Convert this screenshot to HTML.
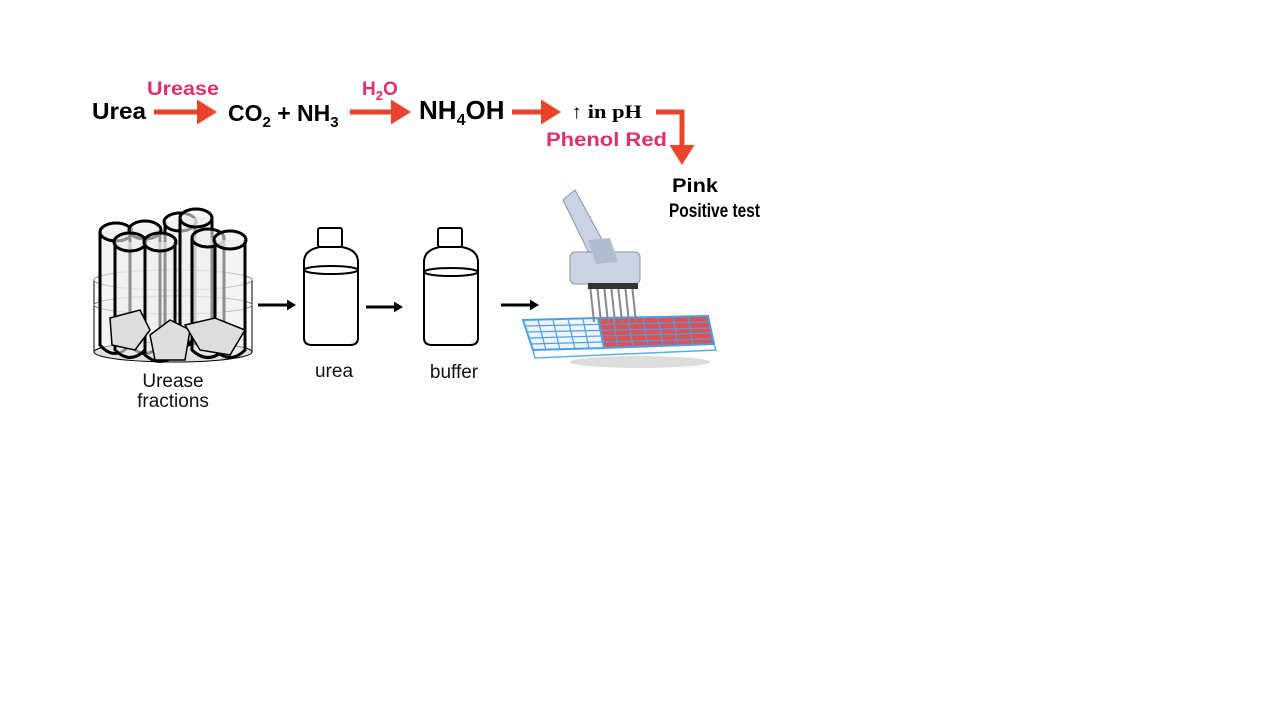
<!DOCTYPE html>
<html><head><style>
body{margin:0;background:#fff;width:1280px;height:720px;overflow:hidden}
svg{display:block}
.b{font-family:"Liberation Sans",sans-serif;font-weight:bold}
.p{fill:#e0306a}
.n{font-family:"Liberation Sans",sans-serif;font-size:19px;fill:#111}
</style></head><body>
<svg width="1280" height="720" viewBox="0 0 1280 720">
<defs>
<marker id="oa" markerWidth="5" markerHeight="5" refX="1" refY="2.5" orient="auto" markerUnits="strokeWidth"><path d="M0,0L4,2.5L0,5z" fill="#e8452a"/></marker>
<marker id="ba" markerWidth="4" markerHeight="4" refX="1" refY="2" orient="auto" markerUnits="strokeWidth"><path d="M0,0.2L3,2L0,3.8z" fill="#000"/></marker>
</defs>
<!-- reaction -->
<text x="92" y="119" class="b" font-size="23" textLength="54" lengthAdjust="spacingAndGlyphs">Urea</text>
<text x="147" y="95" class="b p" font-size="19" textLength="72" lengthAdjust="spacingAndGlyphs">Urease</text>
<line x1="154" y1="112" x2="202" y2="112" stroke="#e8452a" stroke-width="5" marker-end="url(#oa)"/>
<text x="228" y="121" class="b" font-size="23">CO<tspan font-size="15" dy="6">2</tspan><tspan dy="-6"> + NH</tspan><tspan font-size="15" dy="6">3</tspan></text>
<text x="362" y="95" class="b p" font-size="19">H<tspan font-size="13" dy="5">2</tspan><tspan dy="-5">O</tspan></text>
<line x1="350" y1="112" x2="396" y2="112" stroke="#e8452a" stroke-width="5" marker-end="url(#oa)"/>
<text x="419" y="119" class="b" font-size="26">NH<tspan font-size="16" dy="6">4</tspan><tspan dy="-6">OH</tspan></text>
<line x1="512" y1="112" x2="546" y2="112" stroke="#e8452a" stroke-width="5" marker-end="url(#oa)"/>
<text x="571" y="118" font-family="Liberation Serif,serif" font-weight="bold" font-size="19" textLength="71" lengthAdjust="spacingAndGlyphs">↑ in pH</text>
<text x="546" y="146" class="b p" font-size="19" textLength="121" lengthAdjust="spacingAndGlyphs">Phenol Red</text>
<polyline points="656,112 682,112 682,150" fill="none" stroke="#e8452a" stroke-width="5" marker-end="url(#oa)"/>
<text x="672" y="192" class="b" font-size="19" textLength="46" lengthAdjust="spacingAndGlyphs">Pink</text>
<text x="669" y="217" class="b" font-size="19" textLength="91" lengthAdjust="spacingAndGlyphs">Positive test</text>
<!-- beaker -->
<g stroke="#000" fill="none">
<path d="M94,280 L94,352 Q173,372 252,352 L252,280" stroke-width="1"/>
<ellipse cx="173" cy="280" rx="79" ry="10" stroke-width="1" stroke="#888"/>
<ellipse cx="173" cy="352" rx="79" ry="10" fill="#e0e0e0" stroke-width="1"/>
<ellipse cx="173" cy="305" rx="79" ry="9" stroke="#777"/>
<g stroke-width="3" fill="#ececec" fill-opacity="0.6">
<path d="M165,222 L165,340 Q180,355 195,340 L195,222"/><ellipse cx="180" cy="222" rx="16" ry="9"/>
<path d="M180,218 L180,335 Q196,352 212,335 L212,218"/><ellipse cx="196" cy="218" rx="16" ry="9"/>
<path d="M100,232 L100,345 Q115,362 130,345 L130,232"/><ellipse cx="116" cy="232" rx="16" ry="9"/>
<path d="M130,230 L130,345 Q145,362 160,345 L160,230"/><ellipse cx="145" cy="230" rx="16" ry="9"/>
<path d="M192,238 L192,350 Q208,365 224,350 L224,238"/><ellipse cx="208" cy="238" rx="16" ry="9"/>
<path d="M215,240 L215,350 Q230,365 245,350 L245,240"/><ellipse cx="230" cy="240" rx="16" ry="9"/>
<path d="M115,242 L115,350 Q130,365 145,350 L145,242"/><ellipse cx="130" cy="242" rx="16" ry="9"/>
<path d="M145,242 L145,355 Q160,368 175,355 L175,242"/><ellipse cx="160" cy="242" rx="16" ry="9"/>
</g>
<g fill="#ddd" stroke-width="1.5">
<path d="M110,318 L140,310 L150,330 L135,350 L112,345 Z"/><path d="M150,335 L170,320 L190,330 L185,360 L155,360 Z"/><path d="M185,325 L215,318 L245,330 L230,355 L200,350 Z"/>
</g>
</g>
<text x="173" y="387" class="n" text-anchor="middle">Urease</text>
<text x="173" y="407" class="n" text-anchor="middle">fractions</text>
<!-- arrows -->
<g stroke="#000" stroke-width="3">
<line x1="258" y1="305" x2="290" y2="305" marker-end="url(#ba)"/>
<line x1="366" y1="307" x2="397" y2="307" marker-end="url(#ba)"/>
<line x1="501" y1="305" x2="533" y2="305" marker-end="url(#ba)"/>
</g>
<!-- bottles -->
<g stroke="#000" stroke-width="2" fill="#fff">
<path d="M304,262 Q304,250 320,247 L342,247 Q358,250 358,262 L358,338 Q358,345 350,345 L312,345 Q304,345 304,338 Z"/>
<rect x="318" y="228" width="24" height="19" rx="2"/>
<ellipse cx="331" cy="270" rx="27" ry="4" fill="none"/>
<path d="M424,262 Q424,250 440,247 L462,247 Q478,250 478,262 L478,338 Q478,345 470,345 L432,345 Q424,345 424,338 Z"/>
<rect x="438" y="228" width="24" height="19" rx="2"/>
<ellipse cx="451" cy="272" rx="27" ry="4" fill="none"/>
</g>
<text x="334" y="377" class="n" text-anchor="middle">urea</text>
<text x="454" y="378" class="n" text-anchor="middle">buffer</text>
<!-- plate -->
<ellipse cx="640" cy="362" rx="70" ry="6" fill="#ddd"/>
<path d="M523,320 L708,316 L714,344 L533,350 L535,358 L716,350 L714,344" fill="#fff" stroke="#5aaee8" stroke-width="1.5"/>
<path d="M523,320 L598,318 L604,348 L533,350 Z" fill="#eef4fa" stroke="#4aa0e8" stroke-width="2"/>
<path d="M598,318 L708,316 L714,344 L604,348 Z" fill="#e05050" stroke="#4aa0e8" stroke-width="2"/>
<g stroke="#4aa0e8" stroke-width="1.2">
<line x1="525" y1="326" x2="709" y2="322"/><line x1="527" y1="332" x2="711" y2="328"/><line x1="528" y1="338" x2="712" y2="333"/><line x1="530" y1="344" x2="713" y2="339"/>
<line x1="538" y1="320" x2="546" y2="350"/><line x1="553" y1="320" x2="560" y2="350"/><line x1="568" y1="319" x2="575" y2="349"/><line x1="583" y1="319" x2="589" y2="349"/><line x1="613" y1="318" x2="618" y2="348"/><line x1="628" y1="318" x2="633" y2="347"/><line x1="643" y1="317" x2="648" y2="347"/><line x1="658" y1="317" x2="663" y2="346"/><line x1="673" y1="317" x2="678" y2="346"/><line x1="688" y1="316" x2="693" y2="345"/>
</g>
<!-- pipette -->
<g>
<path d="M563,200 L575,190 L605,245 L590,255 Z" fill="#c9d3e3" stroke="#8a94a5"/>
<rect x="570" y="252" width="70" height="32" rx="5" fill="#c9d3e3" stroke="#8a94a5"/>
<path d="M588,240 L610,238 L618,262 L596,264 Z" fill="#b0bcd0"/>
<g stroke="#888" stroke-width="2"><line x1="590" y1="285" x2="594" y2="322"/><line x1="597" y1="285" x2="601" y2="322"/><line x1="604" y1="285" x2="608" y2="322"/><line x1="611" y1="285" x2="615" y2="322"/><line x1="618" y1="285" x2="622" y2="322"/><line x1="625" y1="285" x2="629" y2="322"/><line x1="632" y1="285" x2="636" y2="322"/></g>
<rect x="588" y="283" width="50" height="6" fill="#333"/>
</g>
</svg>
</body></html>
